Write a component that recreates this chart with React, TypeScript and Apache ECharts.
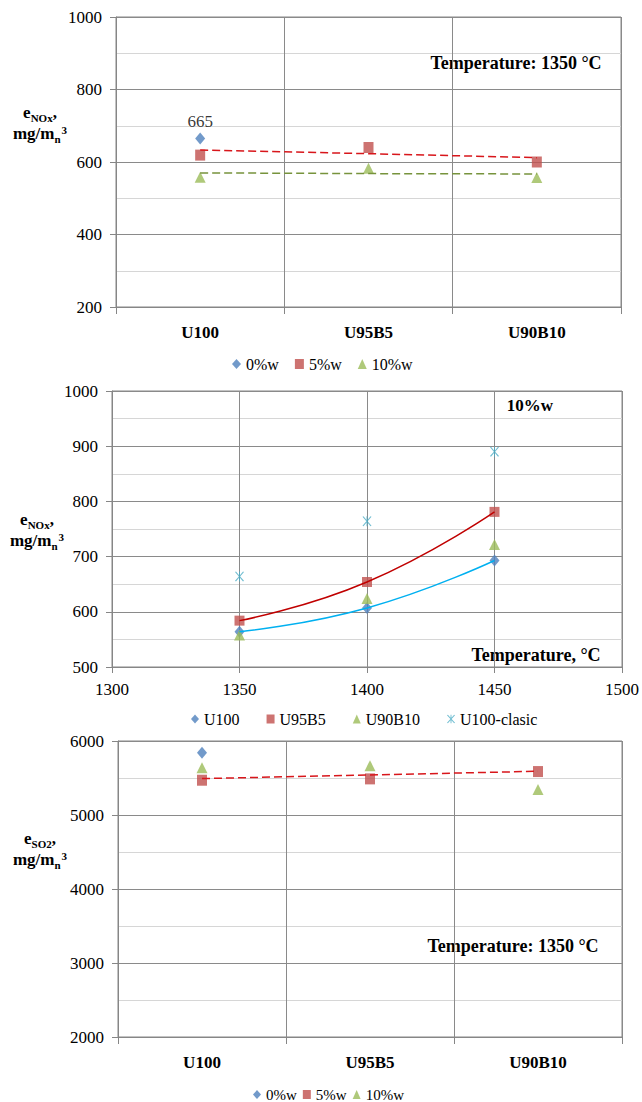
import React, { useEffect, useRef } from 'react';
import * as echarts from 'echarts';

// ---------- data ----------
const fuels = ['U100', 'U95B5', 'U90B10'];
const blendNames = ['0%w', '5%w', '10%w'];

// chart 1 – NOx at 1350 °C
const nox0 = [665, null, null];
const nox5 = [619, 640, 600];
const nox10 = [558, 583, 557];
const nox5Trend = [633, 623, 612];
const nox10Trend = [570, 568, 567];
const noxTicks = { min: 200, max: 1000, interval: 200 };

// chart 2 – NOx vs temperature, 10%w
const temps = [1350, 1400, 1450];
const tempNames = ['U100', 'U95B5', 'U90B10', 'U100-clasic'];
const tU100 = [564, 607, 693];
const tU95B5 = [584, 654, 781];
const tU90B10 = [558, 624, 722];
const tU100clasic = [664, 764, 890];
const tempTicks = { min: 1300, max: 1500, interval: 50 };
const tempNoxTicks = { min: 500, max: 1000, interval: 100 };

// chart 3 – SO2 at 1350 °C
const so2_0 = [5840, null, null];
const so2_5 = [5470, 5488, 5587];
const so2_10 = [5640, 5667, 5344];
const so2_5Trend = [5492, 5541, 5591];
const so2Ticks = { min: 2000, max: 6000, interval: 1000 };

// ---------- styles ----------
const SERIF = 'Liberation Serif, Times New Roman, serif';
const C_BLUE = '#4F81BD';
const C_RED = '#C0504D';
const C_GREEN = '#9BBB59';
const C_CYAN = '#4BACC6';
const AXIS = '#868686';
const MAJOR = '#8a8a8a';
const MINOR = '#d6d6d6';
// star marker: an "x" with a vertical stroke through it
const X_SYMBOL =
  'path://M4.5,0H5.5V10H4.5Z M0.4,0.6L1.4,0L5,4.2L8.6,0L9.6,0.6L5.7,5L9.6,9.4L8.6,10L5,5.8L1.4,10L0.4,9.4L4.3,5Z';

const dash = (v: (number | null)[]) => v.map((x) => (x === null ? '-' : x));
const pairs = (xs: number[], ys: number[]) => xs.map((x, i) => [x, ys[i]]);
const plain = (v: number) => String(v);

const yValueAxis = (gridIndex: number, t: { min: number; max: number; interval: number }) => ({
  type: 'value',
  gridIndex,
  min: t.min,
  max: t.max,
  interval: t.interval,
  axisLine: { show: true, lineStyle: { color: AXIS } },
  axisTick: { show: true, length: 6, lineStyle: { color: AXIS } },
  axisLabel: { color: '#000', fontFamily: SERIF, fontSize: 17, margin: 14, formatter: plain },
  splitLine: { show: true, lineStyle: { color: MAJOR } },
  minorTick: { show: false, splitNumber: 2 },
  minorSplitLine: { show: true, lineStyle: { color: MINOR } },
});

const catAxis = (gridIndex: number) => ({
  type: 'category',
  gridIndex,
  data: fuels,
  boundaryGap: true,
  axisLine: { show: true, lineStyle: { color: AXIS } },
  axisTick: { show: true, length: 7, alignWithLabel: false, lineStyle: { color: AXIS } },
  axisLabel: { color: '#000', fontFamily: SERIF, fontSize: 17, fontWeight: 'bold', margin: 17 },
  splitLine: { show: true, interval: 0, lineStyle: { color: MAJOR } },
});

const yTitle = (x: number, y: number, sub: string) => ({
  type: 'text',
  x,
  y,
  style: {
    text: `{b|e}{s|${sub}}{b|,}\n{b|mg/m}{s|n}{p|3}`,
    textAlign: 'center',
    textVerticalAlign: 'middle',
    fill: '#000',
    rich: {
      b: { fontFamily: SERIF, fontSize: 17, fontWeight: 'bold', lineHeight: 21, verticalAlign: 'top', fill: '#000' },
      s: { fontFamily: SERIF, fontSize: 11, fontWeight: 'bold', lineHeight: 21, verticalAlign: 'top', padding: [8, 0, 0, 0], fill: '#000' },
      p: { fontFamily: SERIF, fontSize: 11, fontWeight: 'bold', lineHeight: 21, verticalAlign: 'top', padding: [-1, 0, 0, 1], fill: '#000' },
    },
  },
});

const note = (x: number, y: number, text: string, size: number) => ({
  type: 'text',
  x,
  y,
  style: {
    text,
    fontFamily: SERIF,
    fontSize: size,
    fontWeight: 'bold',
    fill: '#000',
    textAlign: 'center',
    textVerticalAlign: 'middle',
  },
});

const blendLegend = (left: number, top: number, fontSize: number, itemGap: number, w: number, h: number) => ({
  left,
  top,
  padding: 0,
  itemWidth: w,
  itemHeight: h,
  itemGap,
  textStyle: { fontFamily: SERIF, fontSize, color: '#000' },
  data: [
    { name: blendNames[0], icon: 'diamond' },
    { name: blendNames[1], icon: 'rect' },
    { name: blendNames[2], icon: 'triangle' },
  ],
});

export default function App() {
  const ref = useRef<HTMLDivElement>(null);

  useEffect(() => {
    if (!ref.current) return;
    const chart = echarts.init(ref.current, undefined, { renderer: 'svg' });

    const option: any = {
      animation: false,
      backgroundColor: '#fff',
      textStyle: { fontFamily: SERIF },
      grid: [
        { left: 116, top: 17, width: 505, height: 290, show: true, borderColor: AXIS, borderWidth: 1 },
        { left: 112, top: 391, width: 510, height: 276, show: true, borderColor: AXIS, borderWidth: 1 },
        { left: 118, top: 741, width: 504, height: 296, show: true, borderColor: AXIS, borderWidth: 1 },
      ],
      xAxis: [
        catAxis(0),
        {
          type: 'value',
          gridIndex: 1,
          min: tempTicks.min,
          max: tempTicks.max,
          interval: tempTicks.interval,
          axisLine: { show: true, lineStyle: { color: AXIS } },
          axisTick: { show: true, length: 6, lineStyle: { color: AXIS } },
          axisLabel: { color: '#000', fontFamily: SERIF, fontSize: 17, margin: 14, formatter: plain },
          splitLine: { show: true, lineStyle: { color: MAJOR } },
        },
        catAxis(2),
      ],
      yAxis: [yValueAxis(0, noxTicks), yValueAxis(1, tempNoxTicks), yValueAxis(2, so2Ticks)],
      legend: [
        blendLegend(232, 356, 16, 16, 9, 10),
        {
          left: 191,
          top: 711,
          padding: 0,
          itemWidth: 8,
          itemHeight: 9,
          itemGap: 27,
          textStyle: { fontFamily: SERIF, fontSize: 16, color: '#000' },
          data: [
            { name: tempNames[0], icon: 'diamond' },
            { name: tempNames[1], icon: 'rect' },
            { name: tempNames[2], icon: 'triangle' },
            { name: tempNames[3], icon: X_SYMBOL },
          ],
        },
        blendLegend(253, 1087, 15, 6, 8, 9),
      ],
      series: [
        // ---- chart 1 ----
        {
          name: blendNames[0], type: 'scatter', xAxisIndex: 0, yAxisIndex: 0,
          symbol: 'diamond', symbolSize: [10, 12], itemStyle: { color: C_BLUE },
          data: dash(nox0),
          label: { show: true, position: 'top', distance: 2, color: '#000', fontFamily: SERIF, fontSize: 17 },
        },
        {
          name: blendNames[1], type: 'scatter', xAxisIndex: 0, yAxisIndex: 0,
          symbol: 'rect', symbolSize: [10, 11], itemStyle: { color: C_RED }, data: dash(nox5),
        },
        {
          name: blendNames[2], type: 'scatter', xAxisIndex: 0, yAxisIndex: 0,
          symbol: 'triangle', symbolSize: [11, 11], itemStyle: { color: C_GREEN }, data: dash(nox10),
        },
        {
          name: 'trend 5%w', type: 'line', xAxisIndex: 0, yAxisIndex: 0, showSymbol: false, symbol: 'none', z: 5,
          lineStyle: { color: '#D8161B', width: 1.5, type: [8, 4] }, data: nox5Trend,
        },
        {
          name: 'trend 10%w', type: 'line', xAxisIndex: 0, yAxisIndex: 0, showSymbol: false, symbol: 'none', z: 5,
          lineStyle: { color: '#77933C', width: 1.5, type: [8, 4] }, data: nox10Trend,
        },
        // ---- chart 2 ----
        {
          name: tempNames[0], type: 'scatter', xAxisIndex: 1, yAxisIndex: 1,
          symbol: 'diamond', symbolSize: [10, 12], itemStyle: { color: C_BLUE }, data: pairs(temps, tU100),
        },
        {
          name: tempNames[1], type: 'scatter', xAxisIndex: 1, yAxisIndex: 1,
          symbol: 'rect', symbolSize: [10, 10], itemStyle: { color: C_RED }, data: pairs(temps, tU95B5),
        },
        {
          name: tempNames[2], type: 'scatter', xAxisIndex: 1, yAxisIndex: 1,
          symbol: 'triangle', symbolSize: [11, 11], itemStyle: { color: C_GREEN }, data: pairs(temps, tU90B10),
        },
        {
          name: tempNames[3], type: 'scatter', xAxisIndex: 1, yAxisIndex: 1,
          symbol: X_SYMBOL, symbolSize: [9, 10], itemStyle: { color: C_CYAN }, data: pairs(temps, tU100clasic),
        },
        {
          name: 'trend U100', type: 'line', xAxisIndex: 1, yAxisIndex: 1, showSymbol: false, symbol: 'none', z: 5,
          smooth: true, lineStyle: { color: '#00B0F0', width: 1.5 }, data: pairs(temps, tU100),
        },
        {
          name: 'trend U95B5', type: 'line', xAxisIndex: 1, yAxisIndex: 1, showSymbol: false, symbol: 'none', z: 5,
          smooth: true, lineStyle: { color: '#C00000', width: 1.5 }, data: pairs(temps, tU95B5),
        },
        // ---- chart 3 ----
        {
          name: blendNames[0], type: 'scatter', xAxisIndex: 2, yAxisIndex: 2,
          symbol: 'diamond', symbolSize: [10, 12], itemStyle: { color: C_BLUE }, data: dash(so2_0),
        },
        {
          name: blendNames[1], type: 'scatter', xAxisIndex: 2, yAxisIndex: 2,
          symbol: 'rect', symbolSize: [10, 11], itemStyle: { color: C_RED }, data: dash(so2_5),
        },
        {
          name: blendNames[2], type: 'scatter', xAxisIndex: 2, yAxisIndex: 2,
          symbol: 'triangle', symbolSize: [11, 11], itemStyle: { color: C_GREEN }, data: dash(so2_10),
        },
        {
          name: 'trend SO2 5%w', type: 'line', xAxisIndex: 2, yAxisIndex: 2, showSymbol: false, symbol: 'none', z: 5,
          lineStyle: { color: '#D8161B', width: 1.5, type: [8, 4] }, data: so2_5Trend,
        },
      ],
      graphic: [
        yTitle(40, 125, 'NOx'),
        yTitle(37, 532, 'NOx'),
        yTitle(40, 851, 'SO2'),
        note(516, 63, 'Temperature: 1350 °C', 18),
        note(530, 405, '10%w', 17),
        note(536, 655, 'Temperature, °C', 18),
        note(513, 946, 'Temperature: 1350 °C', 18),
      ],
    };

    chart.setOption(option);
    return () => chart.dispose();
  }, []);

  return (
    <div
      ref={ref}
      style={{ position: 'absolute', left: 0, top: 0, width: 642, height: 1102, background: '#fff' }}
    />
  );
}
